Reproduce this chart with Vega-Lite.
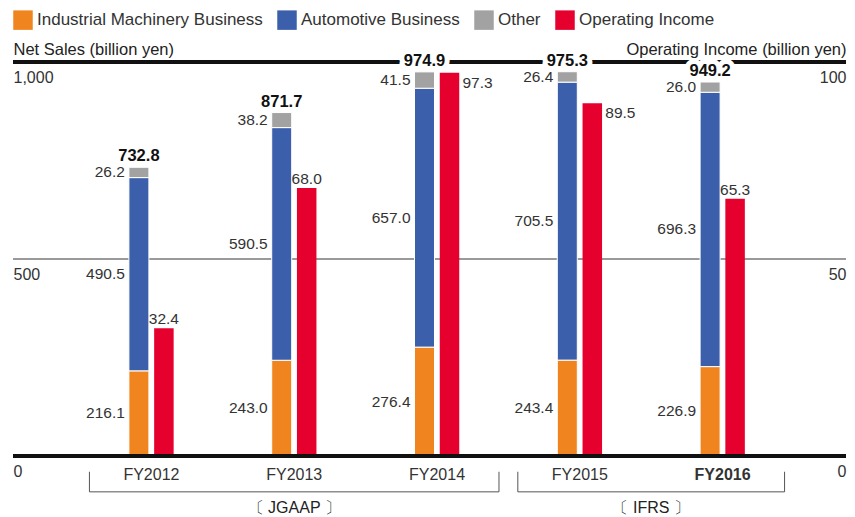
{
  "$schema": "https://vega.github.io/schema/vega-lite/v6.json",
  "width": 833,
  "height": 394,
  "autosize": {"type": "none"},
  "padding": {"left": 13, "top": 62, "right": 9, "bottom": 61},
  "background": "white",
  "datasets": {
    "main": [
      {"year": "FY2012", "series": "Net Sales", "segment": "Industrial Machinery Business", "rank": 1, "value": 216.1},
      {"year": "FY2012", "series": "Net Sales", "segment": "Automotive Business", "rank": 2, "value": 490.5},
      {"year": "FY2012", "series": "Net Sales", "segment": "Other", "rank": 3, "value": 26.2},
      {"year": "FY2012", "series": "Operating Income", "segment": "Operating Income", "rank": 4, "value": 32.4},
      {"year": "FY2013", "series": "Net Sales", "segment": "Industrial Machinery Business", "rank": 1, "value": 243.0},
      {"year": "FY2013", "series": "Net Sales", "segment": "Automotive Business", "rank": 2, "value": 590.5},
      {"year": "FY2013", "series": "Net Sales", "segment": "Other", "rank": 3, "value": 38.2},
      {"year": "FY2013", "series": "Operating Income", "segment": "Operating Income", "rank": 4, "value": 68.0},
      {"year": "FY2014", "series": "Net Sales", "segment": "Industrial Machinery Business", "rank": 1, "value": 276.4},
      {"year": "FY2014", "series": "Net Sales", "segment": "Automotive Business", "rank": 2, "value": 657.0},
      {"year": "FY2014", "series": "Net Sales", "segment": "Other", "rank": 3, "value": 41.5},
      {"year": "FY2014", "series": "Operating Income", "segment": "Operating Income", "rank": 4, "value": 97.3},
      {"year": "FY2015", "series": "Net Sales", "segment": "Industrial Machinery Business", "rank": 1, "value": 243.4},
      {"year": "FY2015", "series": "Net Sales", "segment": "Automotive Business", "rank": 2, "value": 705.5},
      {"year": "FY2015", "series": "Net Sales", "segment": "Other", "rank": 3, "value": 26.4},
      {"year": "FY2015", "series": "Operating Income", "segment": "Operating Income", "rank": 4, "value": 89.5},
      {"year": "FY2016", "series": "Net Sales", "segment": "Industrial Machinery Business", "rank": 1, "value": 226.9},
      {"year": "FY2016", "series": "Net Sales", "segment": "Automotive Business", "rank": 2, "value": 696.3},
      {"year": "FY2016", "series": "Net Sales", "segment": "Other", "rank": 3, "value": 26.0},
      {"year": "FY2016", "series": "Operating Income", "segment": "Operating Income", "rank": 4, "value": 65.3}
    ],
    "brackets": [
      {"label": "〔 JGAAP 〕", "from": "FY2012", "to": "FY2014", "mid": "FY2013"},
      {"label": "〔 IFRS 〕", "from": "FY2015", "to": "FY2016", "mid": "FY2015"}
    ]
  },
  "data": {"name": "main"},
  "layer": [
    {
      "mark": {"type": "rule", "color": "#999999", "strokeWidth": 1},
      "encoding": {
        "y": {"datum": 500, "type": "quantitative", "scale": {"domain": [0, 1000], "nice": false}, "axis": null}
      }
    },
    {
      "transform": [{"filter": "datum.series === 'Operating Income'"}],
      "mark": {"type": "bar", "width": 19.5},
      "encoding": {
        "x": {
          "field": "year", "type": "nominal", "title": null,
          "scale": {"domain": ["FY2012", "FY2013", "FY2014", "FY2015", "FY2016"], "range": [67, 781], "paddingInner": 0.3, "paddingOuter": 0.15},
          "axis": {
            "orient": "bottom", "domain": false, "ticks": false, "labelPadding": 10, "labelFontSize": 16, "labelAngle": 0,
            "labelColor": "#333333",
            "labelFontWeight": {"condition": {"test": "datum.value === 'FY2016'", "value": "bold"}, "value": "normal"}
          }
        },
        "xOffset": {"field": "series", "type": "nominal", "scale": {"domain": ["Net Sales", "Operating Income"], "paddingInner": 0, "paddingOuter": 1}},
        "y": {
          "field": "value", "type": "quantitative",
          "scale": {"domain": [0, 100], "nice": false},
          "axis": {
            "orient": "right", "values": [0, 50, 100], "format": ".0f", "domain": false, "ticks": false, "grid": false,
            "labelAlign": "right", "labelBaseline": "top", "labelPadding": 0, "labelOffset": 7, "labelFontSize": 16, "labelColor": "#333333", "labelFlush": false,
            "title": "Operating Income (billion yen)", "titleAngle": 0, "titleX": 0, "titleY": -8, "titleAlign": "right",
            "titleBaseline": "alphabetic", "titleFontSize": 16.5, "titleFontWeight": "normal", "titleColor": "#222222"
          }
        },
        "color": {
          "field": "segment", "type": "nominal",
          "scale": {"domain": ["Industrial Machinery Business", "Automotive Business", "Other", "Operating Income"], "range": ["#F08520", "#3C5FAC", "#A2A2A2", "#E5002D"]},
          "legend": {
            "orient": "none", "legendX": 0, "legendY": -52, "direction": "horizontal", "title": null,
            "symbolType": "square", "symbolSize": 380, "symbolStrokeWidth": 0, "symbolOpacity": 1,
            "labelFontSize": 17, "labelColor": "#333333", "labelLimit": 0, "columnPadding": 14, "labelOffset": 4
          }
        }
      }
    },
    {
      "mark": {"type": "rule", "color": "#111111", "strokeWidth": 2.6},
      "encoding": {
        "y": {"datum": 1000, "type": "quantitative", "scale": {"domain": [0, 1000], "nice": false}, "axis": null}
      }
    },
    {
      "transform": [{"filter": "datum.series === 'Net Sales'"}],
      "mark": {"type": "bar", "width": 20, "stroke": "white", "strokeWidth": 1},
      "encoding": {
        "x": {"field": "year", "type": "nominal"},
        "xOffset": {"field": "series", "type": "nominal"},
        "y": {
          "field": "value", "type": "quantitative", "stack": "zero",
          "scale": {"domain": [0, 1000], "nice": false},
          "axis": {
            "orient": "left", "values": [0, 500, 1000], "format": ",.0f", "domain": false, "ticks": false, "grid": false,
            "labelAlign": "left", "labelBaseline": "top", "labelPadding": 0, "labelOffset": 7, "labelFontSize": 16, "labelColor": "#333333", "labelFlush": false,
            "title": "Net Sales (billion yen)", "titleAngle": 0, "titleX": 0, "titleY": -8, "titleAlign": "left",
            "titleBaseline": "alphabetic", "titleFontSize": 16.5, "titleFontWeight": "normal", "titleColor": "#222222"
          }
        },
        "color": {"field": "segment", "type": "nominal"},
        "order": {"field": "rank", "type": "quantitative", "sort": "ascending"}
      }
    },
    {
      "mark": {"type": "rule", "color": "#111111", "strokeWidth": 2.8},
      "encoding": {"y": {"datum": 0, "type": "quantitative", "scale": {"domain": [0, 1000], "nice": false}, "axis": null}}
    },
    {
      "data": {"name": "brackets"},
      "mark": {"type": "rule", "color": "#555555", "strokeWidth": 1},
      "encoding": {
        "x": {"field": "from", "type": "nominal", "bandPosition": -0.12},
        "x2": {"field": "to", "bandPosition": 1.12},
        "y": {"datum": -91, "type": "quantitative", "scale": {"domain": [0, 1000], "nice": false}, "axis": null}
      }
    },
    {
      "data": {"name": "brackets"},
      "mark": {"type": "rule", "color": "#555555", "strokeWidth": 1},
      "encoding": {
        "x": {"field": "from", "type": "nominal", "bandPosition": -0.12},
        "y": {"datum": -40, "type": "quantitative", "scale": {"domain": [0, 1000], "nice": false}, "axis": null},
        "y2": {"datum": -91}
      }
    },
    {
      "data": {"name": "brackets"},
      "mark": {"type": "rule", "color": "#555555", "strokeWidth": 1},
      "encoding": {
        "x": {"field": "to", "type": "nominal", "bandPosition": 1.12},
        "y": {"datum": -40, "type": "quantitative", "scale": {"domain": [0, 1000], "nice": false}, "axis": null},
        "y2": {"datum": -91}
      }
    },
    {
      "data": {"name": "brackets"},
      "transform": [{"filter": "datum.mid === 'FY2013'"}],
      "mark": {"type": "text", "align": "center", "baseline": "middle", "fontSize": 16, "color": "#222222"},
      "encoding": {
        "x": {"field": "mid", "type": "nominal", "bandPosition": 0.5},
        "y": {"datum": -132, "type": "quantitative", "scale": {"domain": [0, 1000], "nice": false}, "axis": null},
        "text": {"field": "label"}
      }
    },
    {
      "data": {"name": "brackets"},
      "transform": [{"filter": "datum.mid === 'FY2015'"}],
      "mark": {"type": "text", "align": "center", "baseline": "middle", "fontSize": 16, "color": "#222222"},
      "encoding": {
        "x": {"field": "mid", "type": "nominal", "bandPosition": 1.214},
        "y": {"datum": -132, "type": "quantitative", "scale": {"domain": [0, 1000], "nice": false}, "axis": null},
        "text": {"field": "label"}
      }
    },
    {
      "transform": [
        {"filter": "datum.series === 'Net Sales'"},
        {"stack": "value", "groupby": ["year"], "sort": [{"field": "rank", "order": "ascending"}], "as": ["s0", "s1"]},
        {"fold": ["s0", "s1"], "as": ["edgeName", "edge"]},
        {"aggregate": [{"op": "mean", "field": "edge", "as": "mid"}], "groupby": ["year", "series", "segment", "value"]}
      ],
      "mark": {"type": "text", "align": "right", "baseline": "middle", "dx": -14, "fontSize": 15.5},
      "encoding": {
        "x": {"field": "year", "type": "nominal"},
        "xOffset": {"field": "series", "type": "nominal"},
        "y": {"field": "mid", "type": "quantitative", "scale": {"domain": [0, 1000], "nice": false}, "axis": null},
        "text": {"field": "value", "type": "quantitative", "format": ".1f"},
        "color": {"value": "#333333"},
        "fontWeight": {"condition": {"test": "datum.year === 'FY2016'", "value": "bold"}, "value": "normal"}
      }
    },
    {
      "transform": [{"filter": "datum.series === 'Operating Income' && datum.value < 80"}],
      "mark": {"type": "text", "align": "center", "baseline": "alphabetic", "dy": -4, "fontSize": 15.5, "color": "#333333"},
      "encoding": {
        "x": {"field": "year", "type": "nominal"},
        "xOffset": {"field": "series", "type": "nominal"},
        "y": {"field": "value", "type": "quantitative", "scale": {"domain": [0, 100], "nice": false}, "axis": null},
        "text": {"field": "value", "type": "quantitative", "format": ".1f"}
      }
    },
    {
      "transform": [{"filter": "datum.series === 'Operating Income' && datum.value >= 80"}],
      "mark": {"type": "text", "align": "left", "baseline": "top", "dx": 13, "dy": 3, "fontSize": 15.5, "color": "#333333"},
      "encoding": {
        "x": {"field": "year", "type": "nominal"},
        "xOffset": {"field": "series", "type": "nominal"},
        "y": {"field": "value", "type": "quantitative", "scale": {"domain": [0, 100], "nice": false}, "axis": null},
        "text": {"field": "value", "type": "quantitative", "format": ".1f"}
      }
    },
    {
      "transform": [
        {"filter": "datum.series === 'Net Sales'"},
        {"aggregate": [{"op": "sum", "field": "value", "as": "total"}], "groupby": ["year", "series"]}
      ],
      "mark": {"type": "text", "align": "center", "baseline": "alphabetic", "dy": -6, "fontSize": 16.5, "fontWeight": "bold", "fill": "white", "stroke": "white", "strokeWidth": 10, "strokeJoin": "round"},
      "encoding": {
        "x": {"field": "year", "type": "nominal"},
        "xOffset": {"field": "series", "type": "nominal"},
        "y": {"field": "total", "type": "quantitative", "scale": {"domain": [0, 1000], "nice": false}, "axis": null},
        "text": {"field": "total", "type": "quantitative", "format": ".1f"}
      }
    },
    {
      "transform": [
        {"filter": "datum.series === 'Net Sales'"},
        {"aggregate": [{"op": "sum", "field": "value", "as": "total"}], "groupby": ["year", "series"]}
      ],
      "mark": {"type": "text", "align": "center", "baseline": "alphabetic", "dy": -6, "fontSize": 16.5, "fontWeight": "bold", "color": "#111111"},
      "encoding": {
        "x": {"field": "year", "type": "nominal"},
        "xOffset": {"field": "series", "type": "nominal"},
        "y": {"field": "total", "type": "quantitative", "scale": {"domain": [0, 1000], "nice": false}, "axis": null},
        "text": {"field": "total", "type": "quantitative", "format": ".1f"}
      }
    }
  ],
  "resolve": {"scale": {"y": "independent"}, "axis": {"y": "independent"}},
  "config": {
    "font": "Liberation Sans",
    "view": {"stroke": null}
  }
}
